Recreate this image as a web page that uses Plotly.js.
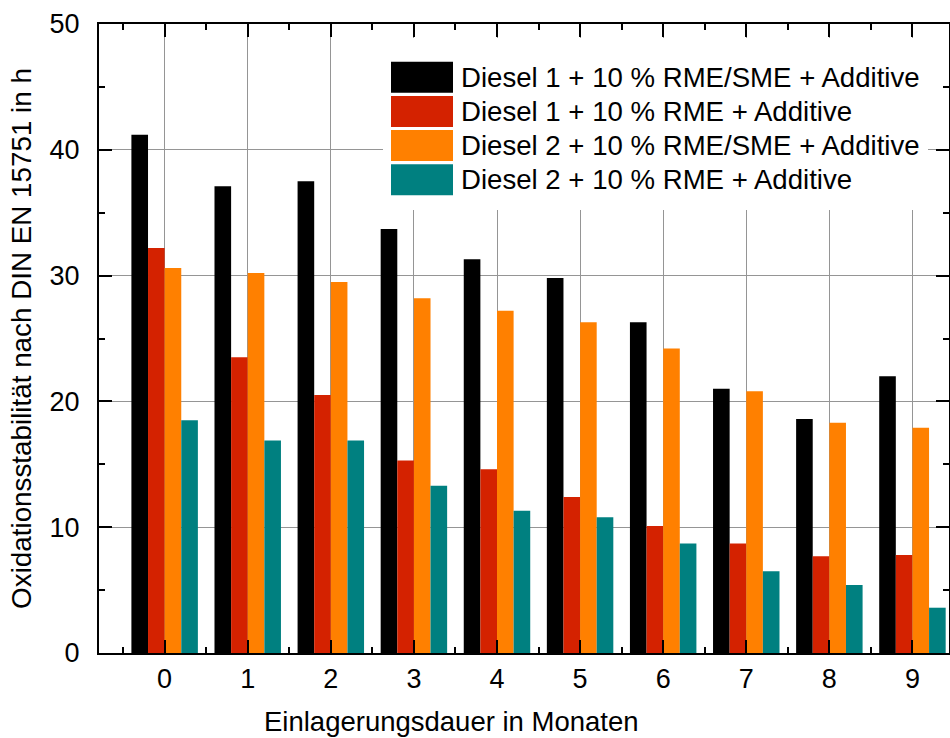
<!DOCTYPE html>
<html>
<head>
<meta charset="utf-8">
<script src="https://cdn.plot.ly/plotly-3.0.1.min.js"></script>
<style>html,body{margin:0;padding:0;background:#fff;}#chart{width:950px;height:738px;}</style>
</head>
<body>
<div id="chart"></div>
<script>
// ---- data ----
const months = [0, 1, 2, 3, 4, 5, 6, 7, 8, 9];
const seriesNames = [
  "Diesel 1 + 10 % RME/SME + Additive",
  "Diesel 1 + 10 % RME + Additive",
  "Diesel 2 + 10 % RME/SME + Additive",
  "Diesel 2 + 10 % RME + Additive"
];
const d1RmeSme = [41.2, 37.1, 37.5, 33.7, 31.3, 29.8, 26.3, 21.0, 18.6, 22.0];
const d1Rme    = [32.2, 23.5, 20.5, 15.3, 14.6, 12.4, 10.1,  8.7,  7.7,  7.8];
const d2RmeSme = [30.6, 30.2, 29.5, 28.2, 27.2, 26.3, 24.2, 20.8, 18.3, 17.9];
const d2Rme    = [18.5, 16.9, 16.9, 13.3, 11.3, 10.8,  8.7,  6.5,  5.4,  3.6];
const seriesValues = [d1RmeSme, d1Rme, d2RmeSme, d2Rme];
const seriesColors = ["#000000", "#d42200", "#ff8000", "#008080"];
const xTitle = "Einlagerungsdauer in Monaten";
const yTitle = "Oxidationsstabilität nach DIN EN 15751 in h";

// ---- layout constants ----
const W = 950, H = 738;
const mL = 99, mR = 1, mT = 24, mB = 85;
const pw = W - mL - mR, ph = H - mT - mB;
const px = x => (x - mL) / pw;          // pixel -> paper x
const py = y => (H - mB - y) / ph;      // pixel -> paper y
const FONT = "Arial, 'Liberation Sans', sans-serif";

const traces = seriesNames.map((name, i) => ({
  type: "bar",
  name: name,
  x: months,
  y: seriesValues[i],
  marker: {color: seriesColors[i], line: {width: 0}},
  showlegend: false,
  hoverinfo: "x+y+name"
}));

// custom legend (large colour blocks)
const shapes = [{
  type: "rect", xref: "paper", yref: "paper", layer: "above",
  x0: px(383), x1: px(928), y0: py(210), y1: py(38),
  fillcolor: "#ffffff", line: {width: 0}
}];
const annotations = [];
seriesNames.forEach((name, i) => {
  const top = 61.7 + 34.2 * i;
  shapes.push({
    type: "rect", xref: "paper", yref: "paper", layer: "above",
    x0: px(391), x1: px(453), y0: py(top + 31), y1: py(top),
    fillcolor: seriesColors[i], line: {width: 0}
  });
  annotations.push({
    xref: "paper", yref: "paper", x: px(459), y: py(top + 15.5),
    xanchor: "left", yanchor: "middle", showarrow: false,
    text: name, font: {family: FONT, size: 27.6, color: "#000"}
  });
});
annotations.push({
  xref: "paper", yref: "paper", x: px(451), y: py(721),
  xanchor: "center", yanchor: "middle", showarrow: false,
  text: xTitle, font: {family: FONT, size: 27.5, color: "#000"}
});

const axisCommon = {
  showline: true, linecolor: "#000", linewidth: 2, mirror: "ticks",
  ticks: "inside", ticklen: 13, tickwidth: 2, tickcolor: "#000",
  showgrid: true, gridcolor: "#959595", gridwidth: 1, zeroline: false,
  tickfont: {family: FONT, size: 27, color: "#000"},
  fixedrange: true
};

const layout = {
  width: W, height: H,
  margin: {l: mL, r: mR, t: mT, b: mB, pad: 0},
  paper_bgcolor: "#fff", plot_bgcolor: "#fff",
  font: {family: FONT, size: 27, color: "#000"},
  barmode: "group", bargap: 0.2, bargroupgap: 0,
  showlegend: false,
  xaxis: Object.assign({}, axisCommon, {
    type: "linear", range: [-0.79, 9.44], tick0: 0, dtick: 1,
    ticklabelstandoff: 1,
    minor: {dtick: 0.5, tick0: 0.5, ticks: "inside", ticklen: 6, tickwidth: 2, tickcolor: "#000", showgrid: false}
  }),
  yaxis: Object.assign({}, axisCommon, {
    range: [0, 50], tick0: 0, dtick: 10,
    ticklabelstandoff: 12,
    title: {text: yTitle, font: {family: FONT, size: 27.8, color: "#000"}, standoff: 10},
    minor: {dtick: 5, ticks: "inside", ticklen: 6, tickwidth: 2, tickcolor: "#000", showgrid: false}
  }),
  shapes: shapes,
  annotations: annotations
};

Plotly.newPlot("chart", traces, layout, {displayModeBar: false, staticPlot: true});
</script>
</body>
</html>
